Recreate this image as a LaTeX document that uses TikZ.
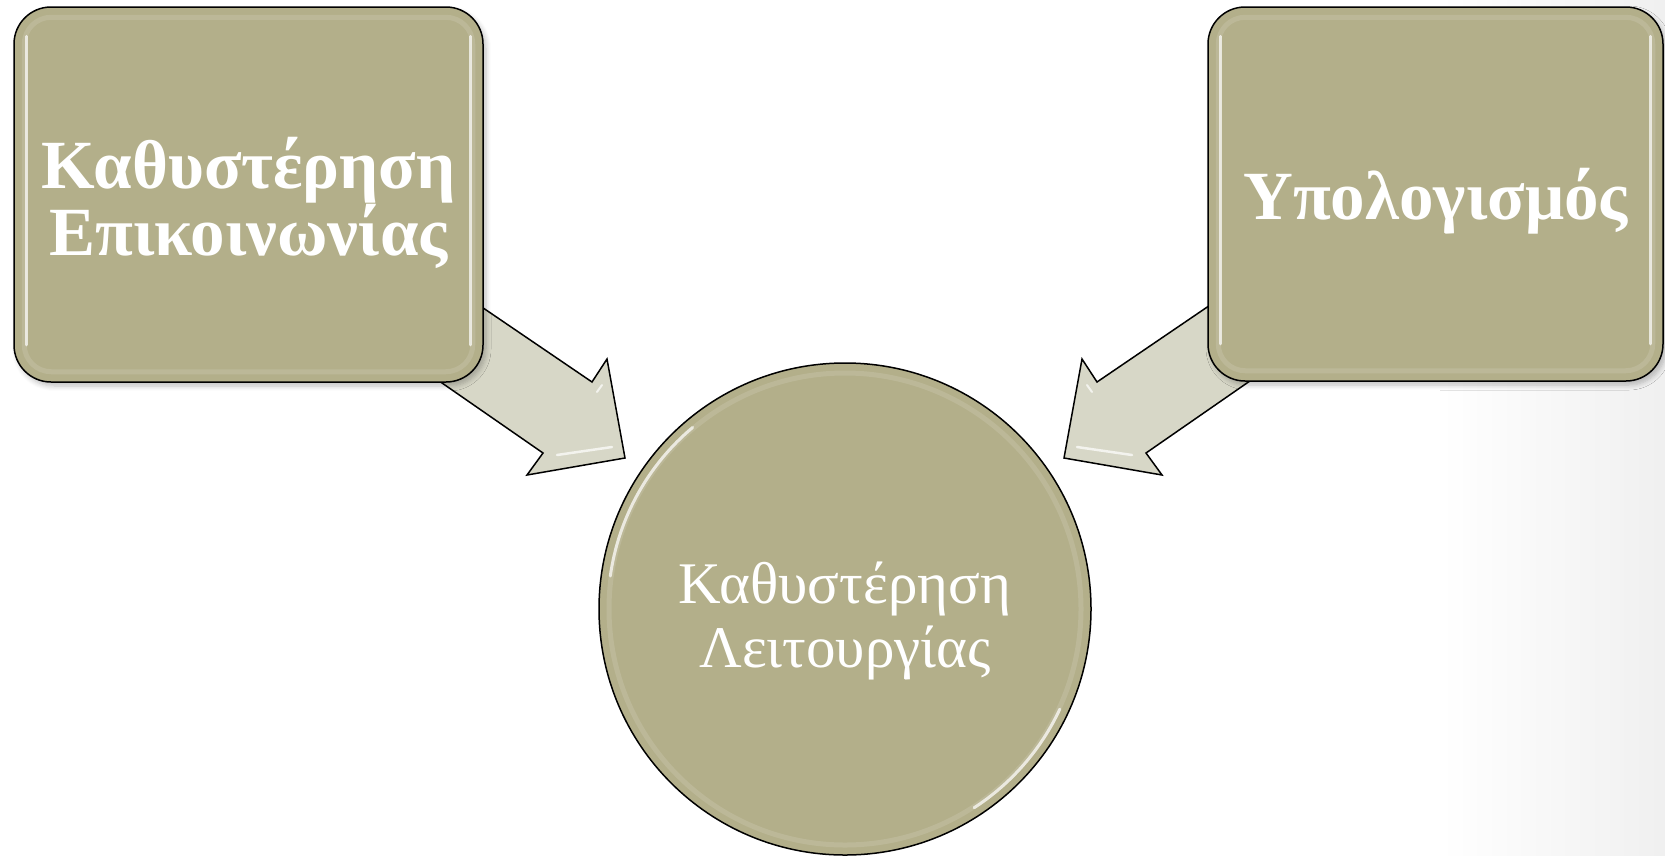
\documentclass[tikz,border=0pt]{standalone}
\usepackage{fontspec}
\setmainfont{Liberation Serif}
\usetikzlibrary{shadows.blur}
\definecolor{khaki}{HTML}{B3AF8A}
\definecolor{pale}{HTML}{D7D7C7}
\pgfdeclarelayer{bg}
\pgfsetlayers{bg,main}
\tikzset{
  panel/.style={draw=black, line width=1.5pt, fill=khaki, rounded corners=37pt,
    inner sep=0pt,
    blur shadow={shadow xshift=3pt, shadow yshift=-4pt, shadow blur steps=6,
      shadow blur radius=5pt, shadow opacity=25}},
  hubstyle/.style={circle, draw=black, line width=1.5pt, fill=khaki,
    inner sep=0pt, minimum size=492pt},
  caption/.style={text=white, align=center, inner sep=0pt},
  blockarrow/.style={draw=black, line width=1.5pt, fill=pale, line join=miter},
  gloss/.style={draw=white, line width=3pt, opacity=0.7, line cap=round},
  rim/.style={draw=white, line width=5pt, opacity=0.12},
}
\begin{document}
\begin{tikzpicture}[x=1pt, y=-1pt]
  \useasboundingbox (0,0) rectangle (1665,855);

  % boxes and the central circle
  \node[panel, minimum width=469pt, minimum height=375pt] (comm) at (248.5,194.5) {};
  \node[panel, minimum width=455pt, minimum height=374pt] (calc) at (1435.5,194) {};
  \node[hubstyle] (hub) at (845,609) {};

  % glossy rims on the boxes
  \draw[rim, rounded corners=27pt] ([shift={(11pt,-11pt)}]comm.north west) rectangle ([shift={(-11pt,11pt)}]comm.south east);
  \draw[rim, rounded corners=27pt] ([shift={(11pt,-11pt)}]calc.north west) rectangle ([shift={(-11pt,11pt)}]calc.south east);
  \foreach \b in {comm,calc}{
    \draw[gloss] ([shift={(13pt,-30pt)}]\b.north west) -- ([shift={(13pt,38pt)}]\b.south west);
    \draw[gloss] ([shift={(-13pt,-30pt)}]\b.north east) -- ([shift={(-13pt,38pt)}]\b.south east);
  }

  % glossy arcs on the circle
  \begin{scope}[shift={(hub.center)}, x=1pt, y=1pt]
    \draw[rim] (0,0) circle (236);
    \draw[gloss] (130:237) arc (130:172:237);
    \draw[gloss] (-25:237) arc (-25:-57:237);
  \end{scope}

  % captions
  \node[caption, font={\fontsize{69}{64}\selectfont\bfseries}] (comm-text)
    at ([yshift=-8pt]comm.center) {Καθυστέρηση\\Επικοινωνίας};
  \node[caption, font={\fontsize{69}{69}\selectfont\bfseries}] (calc-text)
    at ([yshift=-7pt]calc.center) {Υπολογισμός};
  \node[caption, font={\fontsize{59}{64}\selectfont}] (hub-text)
    at ([yshift=-12pt]hub.center) {Καθυστέρηση\\Λειτουργίας};

  % block arrows towards the circle, behind the boxes
  \begin{pgfonlayer}{bg}
    \shade[left color=white, right color=black!6] (1440,0) rectangle (1665,855);
    \coordinate (ltip) at (625,458);
    \coordinate (rtip) at (1064,458);
    \draw[blockarrow] (comm.center) ++(171.5,70.5) -- (592,382) -- (607,359) -- (ltip)
      -- (527,475) -- (543,453) -- (380,340) -- cycle;
    \draw[blockarrow] (calc.center) ++(-166.5,71) -- (1097,382) -- (1082,359) -- (rtip)
      -- (1162,475) -- (1146,453) -- (1309,340) -- cycle;
    \draw[gloss, line width=2.5pt] (557,455) -- (612,447);
    \draw[gloss, line width=2pt] (597,392) -- (602,385);
    \draw[gloss, line width=2.5pt] (1132,455) -- (1077,447);
    \draw[gloss, line width=2pt] (1092,392) -- (1087,385);
  \end{pgfonlayer}
\end{tikzpicture}
\end{document}
